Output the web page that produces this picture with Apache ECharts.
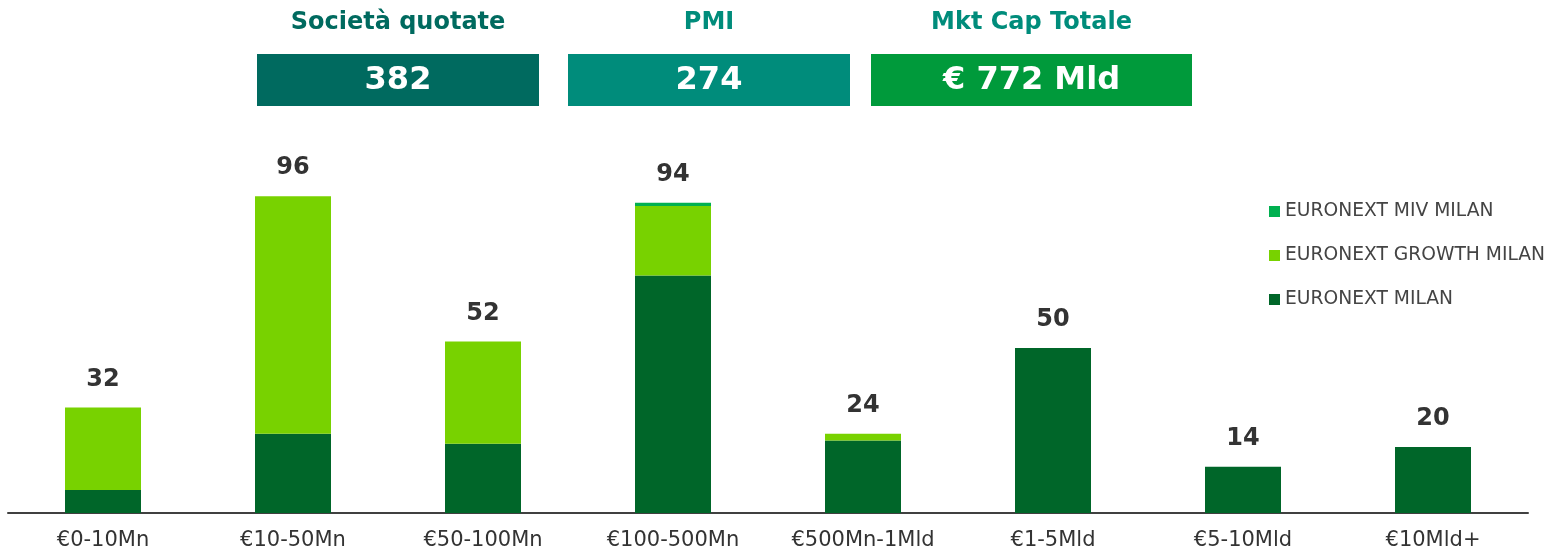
<!DOCTYPE html>
<html lang="it">
<head>
  <meta charset="UTF-8">
  <title>Società quotate per capitalizzazione</title>
  <style>
    html, body { margin: 0; padding: 0; background: #fff; }
    #myChart { width: 1548px; height: 550px; }
  </style>
</head>
<body>
  <div id="myChart"></div>
  <script src="https://cdn.jsdelivr.net/npm/echarts@6/dist/echarts.min.js"></script>
  <script>
    const categories = ['€0-10Mn', '€10-50Mn', '€50-100Mn', '€100-500Mn', '€500Mn-1Mld', '€1-5Mld', '€5-10Mld', '€10Mld+'];
    const milan = [7, 24, 21, 72, 22, 50, 14, 20];
    const growth = [25, 72, 31, 21, 2, 0, 0, 0];
    const miv = [0, 0, 0, 1, 0, 0, 0, 0];
    const totals = categories.map((c, i) => milan[i] + growth[i] + miv[i]);

    const headerTitles = ['Società quotate', 'PMI', 'Mkt Cap Totale'];
    const headerValues = ['382', '274', '€ 772 Mld'];
    const headerBoxes = [
      { x: 257, w: 282, color: '#006a5f', title: '#006a5f' },
      { x: 568, w: 282, color: '#008c7b', title: '#008c7b' },
      { x: 871, w: 321, color: '#009a3b', title: '#008c7b' }
    ];

    const font = 'DejaVu Sans';
    const myChart = echarts.init(document.getElementById('myChart'));

    // header: titles + coloured boxes with the key numbers
    const graphic = [];
    headerBoxes.forEach((b, i) => {
      graphic.push({
        type: 'text', x: b.x + b.w / 2, y: 23,
        style: {
          text: headerTitles[i], fill: b.title, font: 'bold 24px "' + font + '"',
          align: 'center', verticalAlign: 'middle'
        }
      });
      graphic.push({
        type: 'rect', shape: { x: b.x, y: 54, width: b.w, height: 52 },
        style: { fill: b.color }
      });
      graphic.push({
        type: 'text', x: b.x + b.w / 2, y: 81,
        style: {
          text: headerValues[i], fill: '#fff', font: 'bold 32px "' + font + '"',
          align: 'center', verticalAlign: 'middle'
        }
      });
    });

    const option = {
      backgroundColor: '#fff',
      animation: false,
      textStyle: { fontFamily: font },
      graphic: graphic,
      legend: {
        data: ['EURONEXT MIV MILAN', 'EURONEXT GROWTH MILAN', 'EURONEXT MILAN'],
        orient: 'vertical',
        left: 1264,
        top: 197,
        itemWidth: 11,
        itemHeight: 11,
        itemGap: 25,
        icon: 'rect',
        textStyle: { fontSize: 18.7, color: '#444', fontFamily: font }
      },
      grid: { left: 8, right: 20, top: 183, bottom: 37, containLabel: false, outerBoundsMode: 'none' },
      xAxis: {
        type: 'category',
        data: categories,
        axisTick: { show: false },
        axisLine: { lineStyle: { color: '#404040', width: 2 } },
        axisLabel: { fontSize: 21, color: '#333', margin: 17, fontFamily: font }
      },
      yAxis: {
        type: 'value', min: 0, max: 100,
        show: false,
        splitLine: { show: false }
      },
      series: [
        {
          name: 'EURONEXT MILAN', type: 'bar', stack: 'tot', data: milan,
          barWidth: 76, itemStyle: { color: '#006629' }
        },
        {
          name: 'EURONEXT GROWTH MILAN', type: 'bar', stack: 'tot', data: growth,
          itemStyle: { color: '#78d200' }
        },
        {
          name: 'EURONEXT MIV MILAN', type: 'bar', stack: 'tot', data: miv,
          itemStyle: { color: '#00b050' }
        },
        {
          name: 'Totale', type: 'bar', data: totals, barGap: '-100%',
          barWidth: 76, silent: true, z: 0,
          itemStyle: { color: 'rgba(0,0,0,0)' },
          label: {
            show: true, position: 'top', distance: 16,
            fontSize: 24, fontWeight: 'bold', color: '#333', fontFamily: font
          }
        }
      ]
    };
    myChart.setOption(option);
  </script>
</body>
</html>
